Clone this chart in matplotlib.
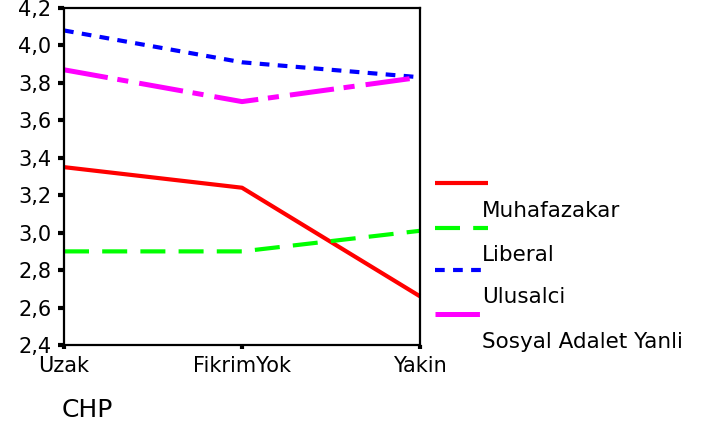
import matplotlib
matplotlib.use("Agg")
import matplotlib.pyplot as plt
from matplotlib.lines import Line2D

categories = ["Uzak", "FikrimYok", "Yakin"]
muhafazakar = [3.35, 3.24, 2.66]
liberal = [2.90, 2.90, 3.01]
ulusalci = [4.08, 3.91, 3.83]
sosyal = [3.87, 3.70, 3.83]
series_names = ["Muhafazakar", "Liberal", "Ulusalci", "Sosyal Adalet Yanli"]
yticks = [2.4, 2.6, 2.8, 3.0, 3.2, 3.4, 3.6, 3.8, 4.0, 4.2]
ytick_labels = ["2,4", "2,6", "2,8", "3,0", "3,2", "3,4", "3,6", "3,8", "4,0", "4,2"]

plt.rcParams["lines.scale_dashes"] = False
plt.rcParams["font.family"] = ["DejaVu Sans"]

fig = plt.figure(figsize=(7.25, 4.3), dpi=100)
ax = fig.add_axes([64/725, 1-345/430, (420-64)/725, (345-8)/430])

styles = [
    dict(color="#ff0000", lw=3.0, linestyle="-"),
    dict(color="#00ff00", lw=3.0, dashes=(18, 9.5)),
    dict(color="#0000ff", lw=3.0, dashes=(7, 6)),
    dict(color="#ff00ff", lw=3.6, dashes=(32, 7, 8, 8)),
]
xs = list(range(len(categories)))
for vals, st in zip([muhafazakar, liberal, ulusalci, sosyal], styles):
    ax.plot(xs, vals, solid_capstyle="butt", dash_capstyle="butt", clip_on=False, **st)

ax.set_xlim(0, 2)
ax.set_ylim(2.4, 4.2)
ax.set_xticks(xs)
ax.set_xticklabels(categories, fontsize=15)
ax.set_yticks(yticks)
ax.set_yticklabels(ytick_labels, fontsize=15)
for sp in ax.spines.values():
    sp.set_linewidth(1.6)
    sp.set_color("black")
ax.tick_params(axis="y", direction="out", length=4, width=3, pad=5)
ax.tick_params(axis="x", direction="out", length=3, width=3, pad=5)

fig.text(62/725, 1-410/430, "CHP", fontsize=18, va="center", ha="left")

# Legend (SPSS style: line above, label below-right)
leg_line_y = [183, 228, 270, 314]
leg_text_y = [211, 255, 297, 342]
for st, name, ly, ty in zip(styles, series_names, leg_line_y, leg_text_y):
    kw = dict(st)
    d = kw.pop("dashes", None)
    ln = Line2D([435/725, 488/725], [1-ly/430, 1-ly/430], transform=fig.transFigure,
                solid_capstyle="butt", dash_capstyle="butt", **kw)
    if d is not None:
        ln.set_dashes(d)
    fig.add_artist(ln)
    fig.text(482/725, 1-ty/430, name, fontsize=15.5, va="center", ha="left")

fig.savefig("out.png", dpi=100)
